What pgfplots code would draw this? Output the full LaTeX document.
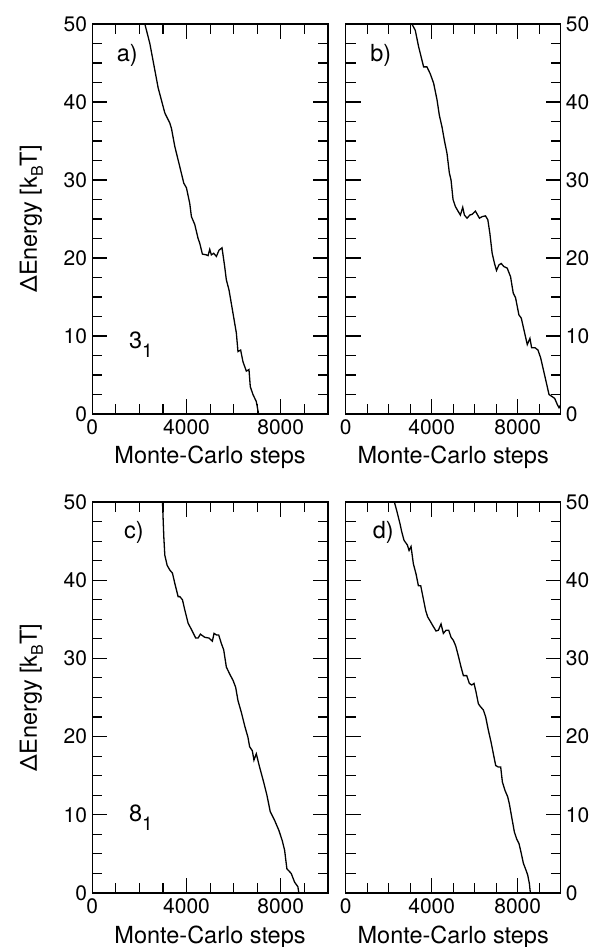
\documentclass[border=0pt]{standalone}
\usepackage{fontspec}
\setmainfont{TeX Gyre Heros}
\usepackage{pgfplots}
\pgfplotsset{compat=1.18}

\newcommand{\lab}{\fontsize{23.5}{23.5}\selectfont}
\newcommand{\tlab}{\fontsize{21}{21}\selectfont}
\newcommand{\sub}[1]{\raisebox{-9pt}{\fontsize{19}{19}\selectfont #1}}

\pgfplotsset{
  mcpanel/.style={
    scale only axis, anchor=south west,
    xmin=0, xmax=10000, ymin=0, ymax=50,
    scaled x ticks=false, scaled y ticks=false,
    xtick={0,4000,8000}, xticklabels={0,4000,8000},
    minor xtick={1000,2000,3000,5000,6000,7000,9000},
    ytick={0,10,20,30,40,50}, yticklabels={0,10,20,30,40,50},
    minor ytick={2.5,5,7.5,12.5,15,17.5,22.5,25,27.5,32.5,35,37.5,42.5,45,47.5},
    tick align=inside, xtick pos=both, ytick pos=both,
    major tick length=15pt, minor tick length=10pt,
    tick style={black, line width=1.1pt},
    axis line style={line width=1.4pt},
    tick label style={font=\tlab, inner sep=0pt},
    ticklabel shift=5pt,
    label style={font=\lab},
    xlabel={Monte-Carlo steps},
    xlabel style={at={(axis description cs:0.5,0)}, anchor=base, yshift=-50pt},
  },
  leftpanel/.style={mcpanel, width=235.5pt, yticklabel pos=left,
    ylabel={ΔEnergy [k\raisebox{-6pt}{\fontsize{16}{16}\selectfont B}T]},
    ylabel style={at={(axis description cs:-0.235,0.5)}, anchor=base}},
  rightpanel/.style={mcpanel, width=215pt, yticklabel pos=right},
  curve/.style={black, line width=1.3pt, no marks},
}

\begin{document}
\begin{tikzpicture}
\useasboundingbox (0,0) rectangle (590pt,947pt);

% a)
\begin{axis}[leftpanel, at={(92.3pt,533pt)}, height=390pt]
\addplot[curve] coordinates {
(2232,50) (2443,47.5) (2797,41.8) (3079,38.6) (3291,37.3) (3362,36.6)
(3503,34.3) (3715,31.7) (3884,29.6) (3997,29.0) (4138,27.0) (4209,25.3)
(4350,24.3) (4492,22.5) (4562,21.9) (4675,20.5) (4845,20.4) (4915,20.3)
(4986,21.1) (5056,20.4) (5155,20.6) (5268,20.2) (5381,21.0) (5508,21.3)
(5621,18.9) (5692,17.2) (5805,15.9) (5975,12.9) (6116,10.4) (6186,8.0)
(6299,8.2) (6398,6.7) (6540,5.5) (6653,5.7) (6709,3.5) (6822,2.5)
(6963,1.6) (7062,0)
};
\node[anchor=base west, font=\lab] at (axis description cs:0.089,0.903) {a)};
\node[anchor=base west, font=\lab] at (axis description cs:0.141,0.168) {3\sub{1}};
\end{axis}

% b)
\begin{axis}[rightpanel, at={(345.7pt,533pt)}, height=390pt]
\addplot[curve] coordinates {
(3079,50) (3235,49.2) (3390,47.1) (3624,44.5) (3779,44.5) (3935,43.6)
(4090,42.4) (4246,40.3) (4355,38.3) (4479,36.8) (4588,35.1) (4712,33.4)
(4821,30.9) (4899,30.0) (4992,27.5) (5101,26.6) (5226,26.0) (5334,25.5)
(5443,26.5) (5521,25.5) (5646,25.1) (5770,25.5) (5879,25.6) (6034,26.0)
(6221,25.1) (6345,25.3) (6501,25.4) (6610,24.9) (6703,23.2) (6812,20.6)
(6921,19.3) (7014,18.4) (7123,19.1) (7232,19.3) (7356,18.9) (7512,18.7)
(7667,17.6) (7792,15.5) (7900,14.9) (8056,12.7) (8165,12.3) (8289,10.8)
(8445,8.9) (8569,9.7) (8647,8.5) (8802,8.5) (8942,8.2) (9067,7.2)
(9300,4.4) (9456,2.5) (9565,2.3) (9720,2.0) (9844,1.2) (9922,0.8) (10000,1.2)
};
\node[anchor=base west, font=\lab] at (axis description cs:0.098,0.903) {b)};
\end{axis}

% c)
\begin{axis}[leftpanel, at={(92.3pt,54pt)}, height=391pt]
\addplot[curve] coordinates {
(2980,50) (3037,45.5) (3079,43.2) (3178,41.9) (3291,41.3) (3404,40.9)
(3503,39.6) (3644,37.9) (3715,37.9) (3828,37.5) (3927,36.2) (4068,34.5)
(4209,33.7) (4393,32.6) (4492,32.6) (4590,33.1) (4774,32.7) (4958,32.6)
(5099,32.2) (5169,33.2) (5268,33.0) (5367,33.0) (5480,31.9) (5579,31.1)
(5692,28.9) (5833,28.0) (5975,27.2) (6088,26.3) (6186,24.6) (6328,23.1)
(6469,21.4) (6610,19.9) (6681,18.7) (6794,18.2) (6864,17.0) (6963,17.8)
(7104,16.1) (7274,14.2) (7415,12.5) (7556,10.4) (7740,9.3) (7924,8.0)
(8065,6.7) (8164,5.5) (8263,3.1) (8446,2.5) (8588,1.4) (8729,0.8) (8771,0)
};
\node[anchor=base west, font=\lab] at (axis description cs:0.12,0.907) {c)};
\node[anchor=base west, font=\lab] at (axis description cs:0.141,0.182) {8\sub{1}};
\end{axis}

% d)
\begin{axis}[rightpanel, at={(345.7pt,54pt)}, height=391pt]
\addplot[curve] coordinates {
(2264,50) (2372,48.9) (2527,47.2) (2605,46.2) (2713,45.1) (2868,44.5)
(2946,43.8) (3039,44.3) (3147,42.1) (3271,40.8) (3380,39.3) (3488,39.3)
(3612,37.6) (3721,36.1) (3814,35.3) (3922,34.8) (4047,34.2) (4202,33.5)
(4310,33.6) (4434,34.4) (4543,33.2) (4667,33.6) (4791,33.6) (4899,32.7)
(5008,32.3) (5116,31.6) (5240,30.3) (5364,28.9) (5473,27.8) (5628,27.8)
(5752,26.8) (5860,26.6) (5969,26.8) (6062,25.7) (6171,24.2) (6248,23.9)
(6403,23.4) (6512,22.5) (6636,20.8) (6760,19.3) (6868,17.8) (6977,16.3)
(7101,16.1) (7209,16.1) (7287,14.2) (7411,13.1) (7535,12.3) (7612,11.4)
(7721,9.7) (7845,7.8) (7953,6.9) (8062,6.3) (8155,5.2) (8264,3.8)
(8388,2.9) (8465,2.3) (8543,1.2) (8589,0)
};
\node[anchor=base west, font=\lab] at (axis description cs:0.11,0.907) {d)};
\end{axis}
\end{tikzpicture}
\end{document}
